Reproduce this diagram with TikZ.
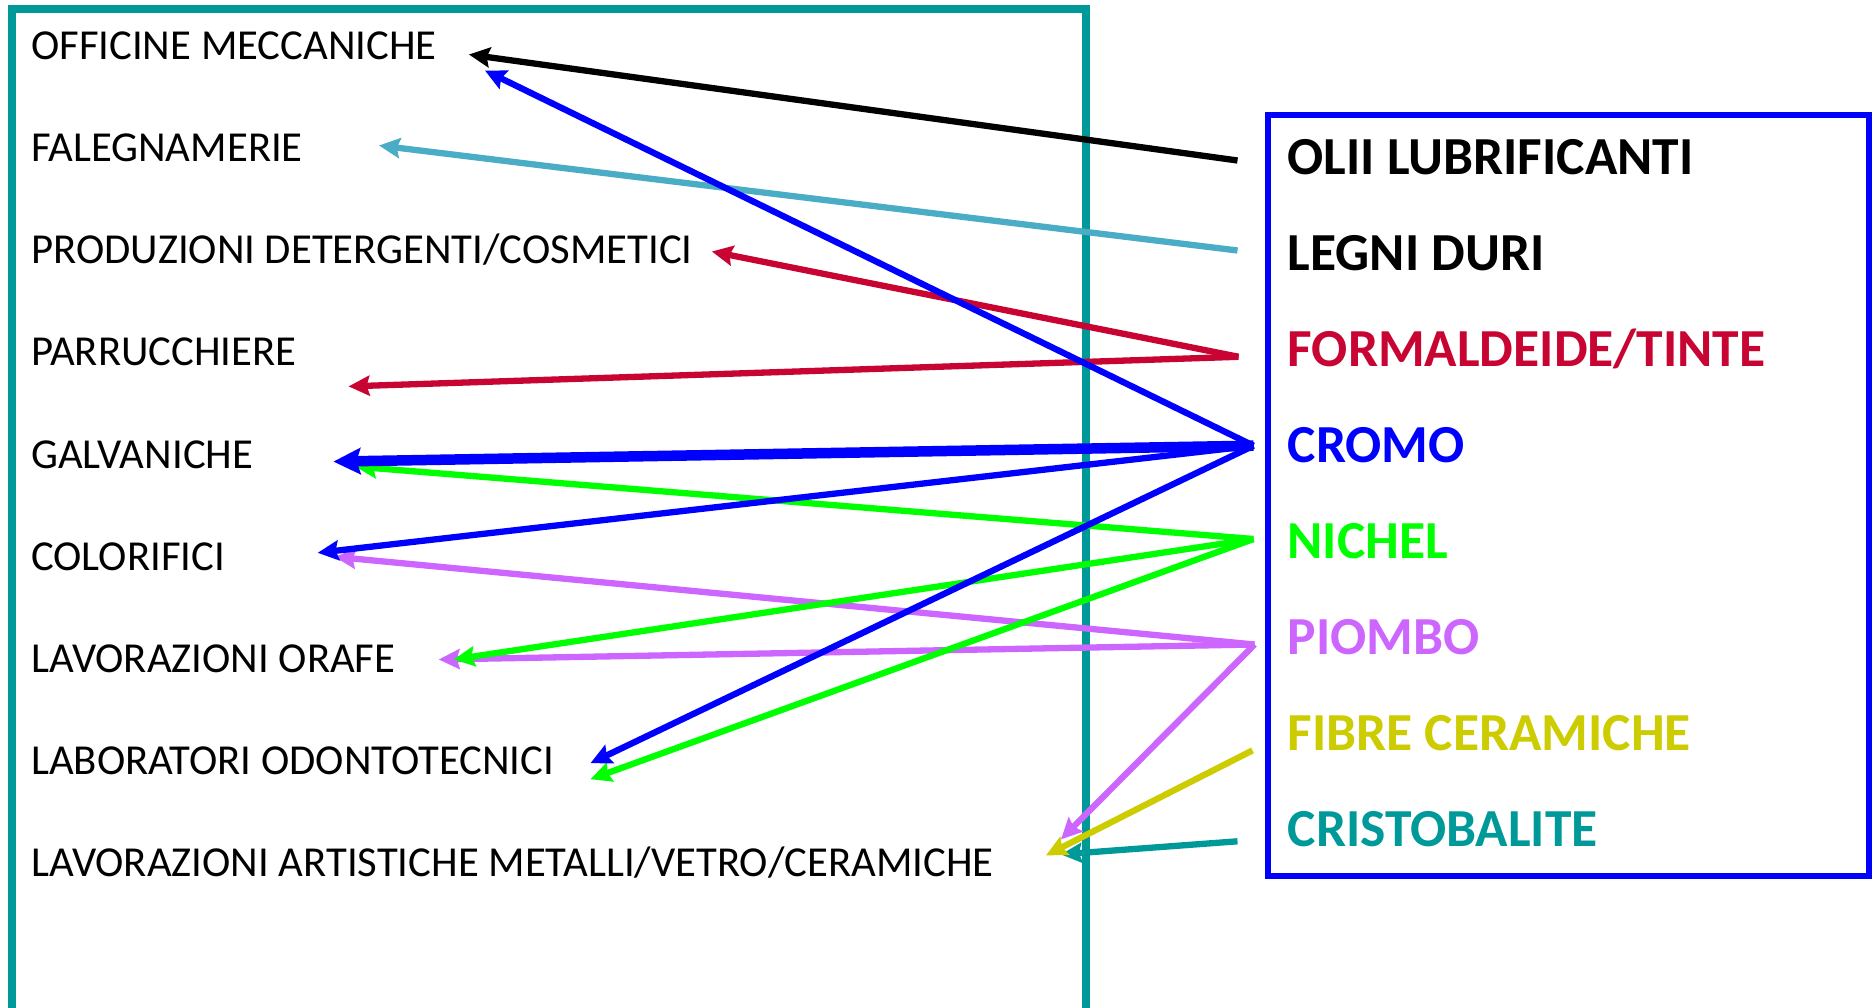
\documentclass[tikz,border=0pt]{standalone}
\usepackage{fontspec}
\setmainfont{Carlito}
\usepackage{tikz}
\usetikzlibrary{arrows.meta}
\definecolor{frameteal}{RGB}{0,153,153}
\definecolor{woodblue}{RGB}{75,172,198}
\definecolor{formred}{RGB}{200,4,50}
\definecolor{chromeblue}{RGB}{0,0,255}
\definecolor{nickelgreen}{RGB}{0,255,0}
\definecolor{leadviolet}{RGB}{204,102,255}
\definecolor{fibreyellow}{RGB}{204,204,0}
\tikzset{sector/.style = {anchor = base west, inner sep = 0pt, text height = 27pt, text depth = 0pt,
                          font = \fontsize{42.7}{50}\selectfont}}
\tikzset{agent/.style = {anchor = base west, inner sep = 0pt, text height = 34pt, text depth = 0pt,
                         font = \fontsize{53.5}{62}\selectfont\bfseries}}
\tikzset{link/.style = {line width = 6.3pt, -{Stealth[length = 21pt, width = 20pt, inset = 3pt]}}}
\tikzset{biglink/.style = {line width = 10.5pt, -{Stealth[length = 27pt, width = 26pt, inset = 4pt]}}}

\begin{document}
\begin{tikzpicture}[x = 1pt, y = -1pt]
      \useasboundingbox (0, 0) rectangle (1874, 1008);
      \draw [frameteal, line width = 8pt] (12, 1040) -- (12, 9) -- (1086, 9) -- (1086, 1040);
      \draw [chromeblue, line width = 6.5pt] (1268, 115) rectangle (1869, 876);

      \node [sector] (offic) at (31, 59.3) {OFFICINE MECCANICHE};
      \node [sector] (faleg) at (31, 161.5) {FALEGNAMERIE};
      \node [sector] (prod) at (31, 263.7) {PRODUZIONI DETERGENTI/COSMETICI};
      \node [sector] (parr) at (31, 365.9) {PARRUCCHIERE};
      \node [sector] (galv) at (31, 468.1) {GALVANICHE};
      \node [sector] (color) at (31, 570.3) {COLORIFICI};
      \node [sector] (orafe) at (31, 672.5) {LAVORAZIONI ORAFE};
      \node [sector] (odont) at (31, 774.7) {LABORATORI ODONTOTECNICI};
      \node [sector] (artist) at (31, 876.9) {LAVORAZIONI ARTISTICHE METALLI/VETRO/CERAMICHE};

      \node [agent] (olii) at (1287.5, 175) {OLII LUBRIFICANTI};
      \node [agent] (legni) at (1287.5, 270.9) {LEGNI DURI};
      \node [agent, formred] (form) at (1287.5, 366.8) {FORMALDEIDE/TINTE};
      \node [agent, chromeblue] (cromo) at (1287.5, 462.7) {CROMO};
      \node [agent, nickelgreen] (nichel) at (1287.5, 558.6) {NICHEL};
      \node [agent, leadviolet] (piombo) at (1287.5, 654.5) {PIOMBO};
      \node [agent, fibreyellow] (fibre) at (1287.5, 750.4) {FIBRE CERAMICHE};
      \node [agent, frameteal] (cristo) at (1287.5, 846.3) {CRISTOBALITE};

      \draw [link, black] ([xshift = -50pt, yshift = -2.5pt]olii.west) -- ([xshift = 32pt, yshift = -8.7pt]offic.east);
      \draw [link, woodblue] ([xshift = -50pt, yshift = 3.4pt]legni.west) -- ([xshift = 76pt, yshift = 2.5pt]faleg.east);
      \draw [link, formred] ([xshift = -49pt, yshift = -7pt]form.west) -- ([xshift = 19pt, yshift = -1.3pt]prod.east);
      \draw [link, formred] ([xshift = -49pt, yshift = -7pt]form.west) -- ([xshift = 52pt, yshift = -34pt]parr.east);

      \draw [link, leadviolet] ([xshift = -33pt, yshift = -7pt]piombo.west) -- ([xshift = 109.5pt]color.east);
      \draw [link, leadviolet] ([xshift = -33pt, yshift = -7pt]piombo.west) -- ([xshift = 43pt, yshift = -0.5pt]orafe.east);
      \draw [link, leadviolet] ([xshift = -33pt, yshift = -7pt]piombo.west) -- ([xshift = 67pt, yshift = 24pt]artist.east);

      \draw [link, nickelgreen] ([xshift = -34pt, yshift = 2.6pt]nichel.west) -- ([xshift = 102pt, yshift = -12pt]galv.east);
      \draw [link, nickelgreen] ([xshift = -34pt, yshift = 2.6pt]nichel.west) -- ([xshift = 58pt, yshift = -0.5pt]orafe.east);
      \draw [link, nickelgreen] ([xshift = -34pt, yshift = 2.6pt]nichel.west) -- ([xshift = 36pt, yshift = -18pt]odont.east);

      \draw [link, frameteal] ([xshift = -50pt, yshift = -12pt]cristo.west) -- ([xshift = 67pt, yshift = 9pt]artist.east);
      \draw [link, fibreyellow] ([xshift = -35pt, yshift = -17pt]fibre.west) -- ([xshift = 52pt, yshift = 8pt]artist.east);

      \draw [link, chromeblue] ([xshift = -34pt]cromo.west) -- ([xshift = 48pt, yshift = -24.7pt]offic.east);
      \draw [biglink, chromeblue] ([xshift = -34pt]cromo.west) -- ([xshift = 80pt, yshift = -7pt]galv.east);
      \draw [link, chromeblue] ([xshift = -34pt]cromo.west) -- ([xshift = 92.5pt, yshift = 4pt]color.east);
      \draw [link, chromeblue] ([xshift = -34pt]cromo.west) -- ([xshift = 36pt, yshift = -2pt]odont.east);

    \end{tikzpicture}
\end{document}
